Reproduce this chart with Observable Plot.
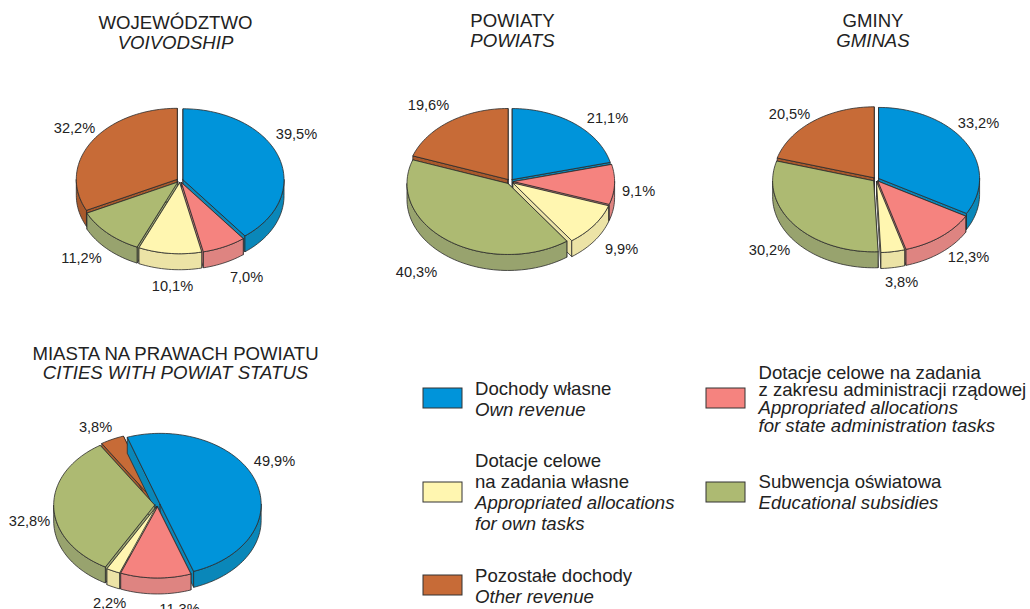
<!DOCTYPE html>
<html><head><meta charset="utf-8">
<script src="https://cdn.jsdelivr.net/npm/d3@7"></script>
<script src="https://cdn.jsdelivr.net/npm/@observablehq/plot@0.6"></script>
<style>html,body{margin:0;padding:0;background:#fff;overflow:hidden}svg{display:block}</style>
</head><body><div id="chart"></div>
<script>
// Data: shares in percent, in clockwise order
const categories = ["Dochody własne","Dotacje z zakresu administracji rządowej","Dotacje na zadania własne","Subwencja oświatowa","Pozostałe dochody"];
const wojewodztwo = [39.5, 7.0, 10.1, 11.2, 32.2];
const powiaty = [21.1, 9.1, 9.9, 40.3, 19.6];
const gminy = [33.2, 12.3, 3.8, 30.2, 20.5];
const miasta = [49.9, 11.3, 2.2, 32.8, 3.8];

// Styles
const topColors = ["#0094da","#f5837f","#fff6b0","#adba72","#c76b37"];
const sideColors = ["#0a87b9","#de8481","#ece3a6","#98a36e","#a8592c"];
const ink = "#2b2b2b";

// Layout of each pie
const pieLayout = [
  {id:"w", values:wojewodztwo, cx:179.5, cy:180,   start:0,   explode:3.2, labels:[[296,134],[246,277],[172,286],[81,258],[74,128]]},
  {id:"p", values:powiaty,     cx:509.6, cy:181,   start:0,   explode:3.5, labels:[[607,118],[638,191],[621,249],[416,272],[428,105]]},
  {id:"g", values:gminy,       cx:875.5, cy:179,   start:0,   explode:3,   labels:[[978,123],[968,257],[901,282],[769,250],[789,114]]},
  {id:"m", values:miasta,      cx:157,   cy:504.5, start:-19, explode:2.8, labels:[[274,461],[179,609],[109,603],[29,521],[95,427]]}
];
const RX = 101, RY = 71, DEPTH = 16, ASPECT = RY / RX;

const rad = d => d * Math.PI / 180;
const polys = [];
function add(id, color, pts) {
  const closed = [...pts, pts[0]];
  closed.forEach(([x, y]) => polys.push({id, color, x, y}));
}
function arc(cx, cy, a0, a1, drop = 0) {
  const n = Math.max(2, Math.ceil(Math.abs(a1 - a0) / 2));
  return d3.range(n + 1).map(i => {
    const a = rad(a0 + (a1 - a0) * i / n);
    return [cx + RX * Math.sin(a), cy - RY * Math.cos(a) + drop];
  });
}
for (const pie of pieLayout) {
  let acc = pie.start;
  const slices = pie.values.map((v, i) => {
    const a0 = acc, a1 = acc + v * 3.6; acc = a1;
    return {i, a0, a1, mid: (a0 + a1) / 2};
  }).sort((p, q) => Math.cos(rad(q.mid)) - Math.cos(rad(p.mid)));
  for (const s of slices) {
    const cx = pie.cx + pie.explode * Math.sin(rad(s.mid));
    const cy = pie.cy - pie.explode * ASPECT * Math.cos(rad(s.mid));
    const key = `${pie.id}-${s.i}`;
    for (const a of [s.a0, s.a1]) {
      const rim = arc(cx, cy, a, a, 0)[0];
      add(`${key}-w${a}`, sideColors[s.i], [[cx, cy], rim, [rim[0], rim[1] + DEPTH], [cx, cy + DEPTH]]);
    }
    for (const k of [-360, 0, 360]) {
      const lo = Math.max(s.a0, 90 + k), hi = Math.min(s.a1, 270 + k);
      if (hi > lo) {
        const upper = arc(cx, cy, lo, hi), lower = arc(cx, cy, hi, lo, DEPTH);
        add(`${key}-o${k}`, sideColors[s.i], [...upper, ...lower]);
      }
    }
    add(`${key}-t`, topColors[s.i], [[cx, cy], ...arc(cx, cy, s.a0, s.a1)]);
  }
}

const fmt = v => v.toFixed(1).replace(".", ",") + "%";
const pctLabels = pieLayout.flatMap(p => p.values.map((v, i) => ({t: fmt(v), x: p.labels[i][0], y: p.labels[i][1]})));

const titles = [
  {t:"WOJEWÓDZTWO", x:175, y:23}, {t:"POWIATY", x:512, y:21}, {t:"GMINY", x:872.5, y:21},
  {t:"MIASTA NA PRAWACH POWIATU", x:175, y:354}
];
const titlesEn = [
  {t:"VOIVODSHIP", x:175, y:43}, {t:"POWIATS", x:512, y:41}, {t:"GMINAS", x:872.5, y:41},
  {t:"CITIES WITH POWIAT STATUS", x:175, y:373}
];
const swatches = [
  {i:0, x:423, y:388}, {i:2, x:423, y:482}, {i:4, x:423, y:575},
  {i:1, x:706, y:388}, {i:3, x:706, y:482}
];
const legendPl = [
  {t:"Dochody własne", x:474.5, y:389},
  {t:"Dotacje celowe", x:474.5, y:461}, {t:"na zadania własne", x:474.5, y:482},
  {t:"Pozostałe dochody", x:474.5, y:576},
  {t:"Dotacje celowe na zadania", x:758, y:373}, {t:"z zakresu administracji rządowej", x:758, y:390},
  {t:"Subwencja oświatowa", x:758, y:482}
];
const legendEn = [
  {t:"Own revenue", x:474.5, y:410},
  {t:"Appropriated allocations", x:474.5, y:503}, {t:"for own tasks", x:474.5, y:524},
  {t:"Other revenue", x:474.5, y:597},
  {t:"Appropriated allocations", x:758, y:408}, {t:"for state administration tasks", x:758, y:426},
  {t:"Educational subsidies", x:758, y:503}
];

const font = {fontFamily:"Liberation Sans, Arial, sans-serif"};
const big = 18.6, small = 14.6;
const chart = Plot.plot({
  width:1030, height:609, margin:0,
  x:{domain:[0,1030], range:[0,1030], axis:null},
  y:{domain:[0,609], range:[0,609], axis:null},
  color:{type:"identity"},
  style:{background:"#fff"},
  marks:[
    Plot.line(polys, {x:"x", y:"y", z:"id", fill:"color", stroke:ink, strokeWidth:0.8, strokeLinejoin:"round", curve:"linear"}),
    Plot.rect(swatches, {x1:"x", x2:d=>d.x+39, y1:"y", y2:d=>d.y+20, fill:d=>topColors[d.i], stroke:"#333", strokeWidth:1}),
    Plot.text(pctLabels, {x:"x", y:"y", text:"t", fontSize:small, fill:"#222", ...font}),
    Plot.text(titles, {x:"x", y:"y", text:"t", fontSize:big, fill:"#222", ...font}),
    Plot.text(titlesEn, {x:"x", y:"y", text:"t", fontSize:big, fontStyle:"italic", fill:"#222", ...font}),
    Plot.text(legendPl, {x:"x", y:"y", text:"t", textAnchor:"start", fontSize:big, fill:"#222", ...font}),
    Plot.text(legendEn, {x:"x", y:"y", text:"t", textAnchor:"start", fontSize:big, fontStyle:"italic", fill:"#222", ...font})
  ]
});
document.getElementById("chart").append(chart);
</script></body></html>
